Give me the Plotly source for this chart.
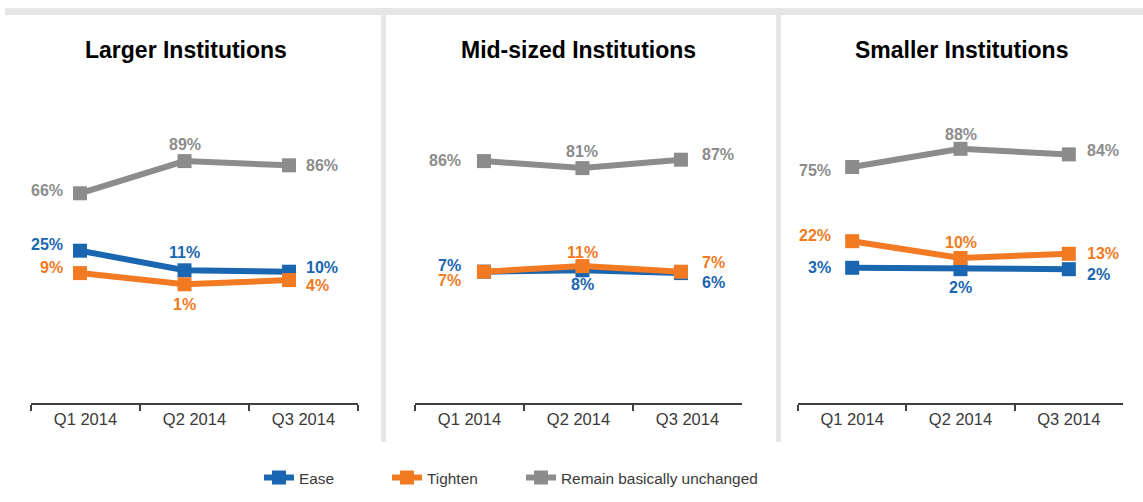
import plotly.graph_objects as go

# ---- data -------------------------------------------------------------
quarters = ["Q1 2014", "Q2 2014", "Q3 2014"]
panel_titles = ["Larger Institutions", "Mid-sized Institutions", "Smaller Institutions"]
series_names = ["Ease", "Tighten", "Remain basically unchanged"]

larger_ease = [25, 11, 10]
larger_tighten = [9, 1, 4]
larger_remain = [66, 89, 86]

mid_ease = [7, 8, 6]
mid_tighten = [7, 11, 7]
mid_remain = [86, 81, 87]

smaller_ease = [3, 2, 2]
smaller_tighten = [22, 10, 13]
smaller_remain = [75, 88, 84]

panel_values = [
    [larger_ease, larger_tighten, larger_remain],
    [mid_ease, mid_tighten, mid_remain],
    [smaller_ease, smaller_tighten, smaller_remain],
]

# ---- styling ------------------------------------------------------------
W, H = 1143, 502
FONT = "Liberation Sans, Arial, sans-serif"
colors = ["#1A66B0", "#F27A22", "#8C8C8C"]
axis_color = "#3F3F3F"
sep_color = "#E6E6E6"

# panel plot areas in pixels (left, right) and common (top, bottom)
panel_px = [(31, 358), (415, 742), (798, 1123)]
title_center_px = [186, 578, 961]
plot_top, plot_bottom = 100, 403
# x range of the line layer for each panel (category units)
line_xrange = [[-0.469, 2.66], [-0.70, 2.62], [-0.5, 2.5]]
# value scale: 1.4 px per point, with a per-panel baseline pixel
px_per_pt = 1.4
baseline_px = [285.7, 281.5, 272.0]

# label placement per panel / series / quarter: (side, gap px, vertical offset px)
label_place = [
    [
        [("l", 15, -6), ("c", 0, -18), ("r", 15, -4)],
        [("l", 15, -6), ("c", 0, 20), ("r", 15, 5)],
        [("l", 15, -3), ("c", 0, -17), ("r", 15, 0)],
    ],
    [
        [("l", 21, -6), ("c", 0, 14), ("r", 19, 9)],
        [("l", 21, 9), ("c", 0, -14), ("r", 19, -9)],
        [("l", 21, -1), ("c", 0, -17), ("r", 19, -5)],
    ],
    [
        [("l", 19, 0), ("c", 0, 18), ("r", 16, 5)],
        [("l", 19, -6), ("c", 0, -16), ("r", 16, 0)],
        [("l", 19, 3), ("c", 0, -14), ("r", 16, -4)],
    ],
]

# each series gets its own legend box so the entries can be spaced freely
legend_ids = ["legend", "legend2", "legend3"]
legend_left_px = [259, 387, 521]

fig = go.Figure()
layout = {}
annotations = []

ydom = [(H - plot_bottom) / H, (H - plot_top) / H]

for p in range(3):
    tick_ax = "x" if p == 0 else f"x{p + 1}"
    y_ax = "y" if p == 0 else f"y{p + 1}"
    line_ax = f"x{p + 4}"
    left, right = panel_px[p]
    xdom = [left / W, right / W]
    ymin = (baseline_px[p] - plot_bottom) / px_per_pt
    ymax = (baseline_px[p] - plot_top) / px_per_pt

    layout[tick_ax.replace("x", "xaxis")] = dict(
        domain=xdom, anchor=y_ax, type="category",
        categoryorder="array", categoryarray=quarters, range=[-0.5, 2.5],
        showline=True, linecolor=axis_color, linewidth=2,
        ticks="outside", tickson="boundaries", ticklen=6,
        tickcolor=axis_color, tickwidth=2,
        showgrid=False, zeroline=False,
        tickfont=dict(family=FONT, size=16.5, color="#3A3A3A"),
        fixedrange=True,
    )
    layout[line_ax.replace("x", "xaxis")] = dict(
        overlaying=tick_ax, anchor=y_ax, type="category",
        categoryorder="array", categoryarray=quarters,
        range=line_xrange[p], visible=False, fixedrange=True,
    )
    layout[y_ax.replace("y", "yaxis")] = dict(
        domain=ydom, anchor=tick_ax, range=[ymin, ymax],
        visible=False, fixedrange=True,
    )

    # invisible trace so the category axis carries the quarter labels
    fig.add_trace(go.Scatter(
        x=quarters, y=[None] * len(quarters), xaxis=tick_ax, yaxis=y_ax,
        mode="lines", showlegend=False, hoverinfo="skip",
    ))

    for s, name in enumerate(series_names):
        vals = panel_values[p][s]
        fig.add_trace(go.Scatter(
            x=quarters, y=vals, name=name, xaxis=line_ax, yaxis=y_ax,
            mode="lines+markers",
            line=dict(color=colors[s], width=6),
            marker=dict(symbol="square", size=14, color=colors[s]),
            showlegend=(p == 0), legendgroup=name, legend=legend_ids[s],
        ))
        for q, v in enumerate(vals):
            side, gap, dy = label_place[p][s][q]
            anchor = {"l": "right", "c": "center", "r": "left"}[side]
            xshift = {"l": -gap, "c": 0, "r": gap}[side]
            annotations.append(dict(
                x=q, y=v, xref=line_ax, yref=y_ax, text=f"{v}%",
                showarrow=False, xanchor=anchor, yanchor="middle",
                xshift=xshift, yshift=-dy,
                font=dict(family=FONT, size=16, color=colors[s], weight="bold"),
            ))

    # panel heading
    annotations.append(dict(
        x=title_center_px[p] / W, y=(H - 50) / H,
        xref="paper", yref="paper", text=f"<b>{panel_titles[p]}</b>",
        showarrow=False, xanchor="center", yanchor="middle",
        font=dict(family=FONT, size=23, color="#000000"),
    ))

# frame: top bar and vertical separators
shapes = [
    dict(type="rect", xref="paper", yref="paper", x0=5 / W, x1=1.0,
         y0=1 - 15 / H, y1=1 - 8 / H, fillcolor=sep_color, line_width=0, layer="below"),
    dict(type="rect", xref="paper", yref="paper", x0=381 / W, x1=386 / W,
         y0=1 - 442 / H, y1=1 - 15 / H, fillcolor=sep_color, line_width=0, layer="below"),
    dict(type="rect", xref="paper", yref="paper", x0=776 / W, x1=781 / W,
         y0=1 - 442 / H, y1=1 - 15 / H, fillcolor=sep_color, line_width=0, layer="below"),
]

legend_style = dict(
    orientation="h", xanchor="left", y=(H - 478) / H, yanchor="middle",
    font=dict(family=FONT, size=15.4, color="#3A3A3A"),
    bgcolor="rgba(0,0,0,0)",
)
for lid, lx in zip(legend_ids, legend_left_px):
    layout[lid] = dict(legend_style, x=lx / W)

fig.update_layout(
    **layout,
    width=W, height=H,
    margin=dict(l=0, r=0, t=0, b=0),
    paper_bgcolor="white", plot_bgcolor="white",
    annotations=annotations, shapes=shapes,
    showlegend=True,
    hovermode=False,
)

fig.write_html("out.html")
